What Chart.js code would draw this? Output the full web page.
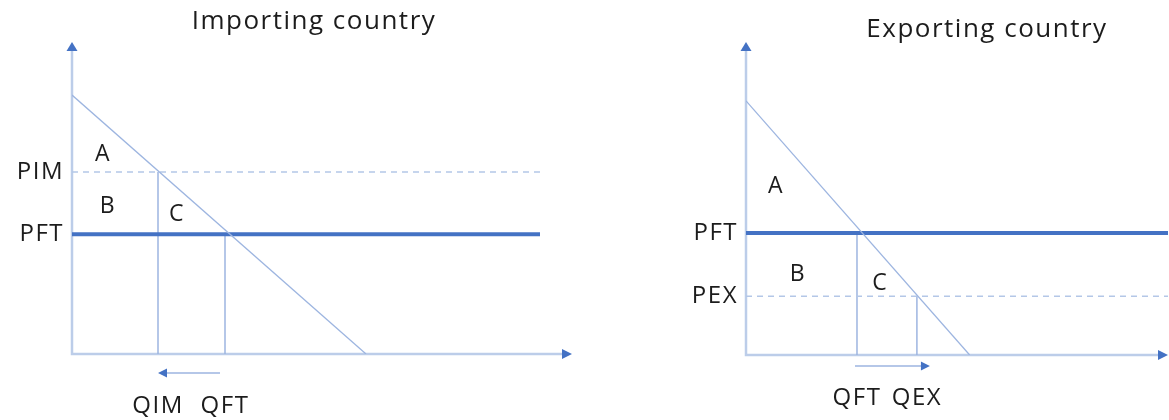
<!DOCTYPE html>
<html lang="en">
<head>
<meta charset="UTF-8">
<title>Importing and exporting country</title>
<script src="https://cdn.jsdelivr.net/npm/chart.js@4.4.1/dist/chart.umd.min.js"></script>
<style>
  html, body { margin: 0; padding: 0; background: #fff; overflow: hidden; }
  #wrap { position: relative; width: 1169px; height: 420px; }
  canvas { position: absolute; top: 0; }
  #importChart { left: 0; }
  #exportChart { left: 680px; }
</style>
</head>
<body>
<div id="wrap">
  <canvas id="importChart" width="600" height="420"></canvas>
  <canvas id="exportChart" width="489" height="420"></canvas>
</div>

<script>
// importing country (axes run 0..100)
const impPriceLabels = ['PIM', 'PFT'];
const impPrices = [58.3, 38.4];
const impQtyLabels = ['QIM', 'QFT'];
const impQtys = [17.2, 30.6];
const impDemandQ = [0, 58.8];
const impDemandP = [83, 0];

// exporting country
const expPriceLabels = ['PFT', 'PEX'];
const expPrices = [39.0, 18.8];
const expQtyLabels = ['QFT', 'QEX'];
const expQtys = [26.3, 40.5];
const expDemandQ = [0, 53];
const expDemandP = [81.2, 0];

const FONT = "'Open Sans', 'Noto Sans', sans-serif";
const TEXT = '#1c1c1c';
const BLUE = '#4472c4';
const THIN = '#9db5e0';
const AXIS = '#bccde9';

function arrowHead(ctx, x, y, dir, len, half) {
    // dir: 'up' | 'right' | 'left'
    ctx.beginPath();
    if (dir === 'up') {
        ctx.moveTo(x, y); ctx.lineTo(x - half, y + len); ctx.lineTo(x + half, y + len);
    } else if (dir === 'right') {
        ctx.moveTo(x, y); ctx.lineTo(x - len, y - half); ctx.lineTo(x - len, y + half);
    } else {
        ctx.moveTo(x, y); ctx.lineTo(x + len, y - half); ctx.lineTo(x + len, y + half);
    }
    ctx.closePath();
    ctx.fill();
}

const decor = {
    id: 'decor',
    beforeDraw(chart) {
        chart.ctx.letterSpacing = '1.5px';
    },
    beforeDatasetsDraw(chart) {
        const {ctx, chartArea: a} = chart;
        ctx.save();
        ctx.strokeStyle = AXIS;
        ctx.lineWidth = 2.5;
        ctx.beginPath();
        ctx.moveTo(a.left, a.top + 6);
        ctx.lineTo(a.left, a.bottom);
        ctx.lineTo(a.right - 6, a.bottom);
        ctx.stroke();
        ctx.restore();
    },
    afterDatasetsDraw(chart, args, opts) {
        const {ctx, chartArea: a, scales: {x, y}} = chart;
        ctx.save();
        ctx.fillStyle = BLUE;
        arrowHead(ctx, a.left, a.top, 'up', 9, 5.5);
        arrowHead(ctx, a.right, a.bottom, 'right', 10, 5);

        // quantity change arrow under the axis
        const qa = opts.qtyArrow;
        const x0 = x.getPixelForValue(opts.qtys[qa.from]);
        const x1 = x.getPixelForValue(opts.qtys[qa.to]);
        const dir = x1 > x0 ? 1 : -1;
        const tail = x0 + dir * qa.tailInset;
        const tip = x1 + dir * qa.tipExtra;
        const ay = a.bottom + qa.drop;
        ctx.strokeStyle = THIN;
        ctx.lineWidth = 1.5;
        ctx.beginPath();
        ctx.moveTo(tail, ay);
        ctx.lineTo(tip - dir * 8, ay);
        ctx.stroke();
        arrowHead(ctx, tip, ay, dir > 0 ? 'right' : 'left', 9, 4.5);

        // region letters
        ctx.fillStyle = TEXT;
        ctx.font = '23px ' + FONT;
        ctx.textAlign = 'center';
        ctx.textBaseline = 'middle';
        opts.letters.forEach(l => {
            ctx.fillText(l.t, x.getPixelForValue(l.x), y.getPixelForValue(l.y));
        });

        // panel title
        ctx.font = '26px ' + FONT;
        ctx.textBaseline = 'alphabetic';
        ctx.fillText(opts.title.text, opts.title.x, opts.title.y);
        ctx.restore();
    }
};

function makePanel(id, p) {
    const datasets = [];
    datasets.push({
        data: p.demandQ.map((q, i) => ({x: q, y: p.demandP[i]})),
        borderColor: THIN,
        borderWidth: 1.3
    });
    p.prices.forEach((v, i) => {
        const thick = i === p.worldIndex;
        datasets.push({
            data: [{x: 0, y: v}, {x: p.lineEnd, y: v}],
            borderColor: thick ? BLUE : '#b4c7e7',
            borderWidth: thick ? 4 : 1.5,
            borderDash: thick ? [] : [6, 5]
        });
    });
    p.qtys.forEach((q, i) => {
        datasets.push({
            data: [{x: q, y: 0}, {x: q, y: p.prices[i]}],
            borderColor: THIN,
            borderWidth: 1.5
        });
    });

    new Chart(document.getElementById(id), {
        type: 'scatter',
        data: {datasets: datasets.map(d => Object.assign({showLine: true, pointRadius: 0, fill: false}, d))},
        options: {
            responsive: false,
            animation: false,
            layout: {padding: {left: 0, top: p.top, right: p.padRight, bottom: 0}},
            plugins: {
                legend: {display: false},
                tooltip: {enabled: false},
                decor: {
                    qtys: p.qtys,
                    qtyArrow: p.qtyArrow,
                    letters: p.letters,
                    title: p.title
                }
            },
            scales: {
                x: {
                    type: 'linear', min: 0, max: 100,
                    grid: {display: false, drawTicks: false},
                    border: {display: false},
                    afterFit: s => { s.height = p.xAxisHeight; },
                    afterBuildTicks: s => { s.ticks = p.qtys.map(v => ({value: v})); },
                    ticks: {
                        autoSkip: false, maxRotation: 0,
                        padding: p.xPad,
                        color: TEXT,
                        font: {family: FONT, size: 24},
                        callback: (v, i) => p.qtyLabels[i]
                    }
                },
                y: {
                    type: 'linear', min: 0, max: 100,
                    grid: {display: false, drawTicks: false},
                    border: {display: false},
                    afterFit: s => { s.width = p.yAxisWidth; },
                    afterBuildTicks: s => { s.ticks = p.prices.map(v => ({value: v})); },
                    ticks: {
                        autoSkip: false,
                        padding: 8,
                        color: TEXT,
                        font: {family: FONT, size: 24},
                        callback: (v, i) => p.priceLabels[i]
                    }
                }
            }
        },
        plugins: [decor]
    });
}

makePanel('importChart', {
    priceLabels: impPriceLabels, prices: impPrices,
    qtyLabels: impQtyLabels, qtys: impQtys,
    demandQ: impDemandQ, demandP: impDemandP,
    worldIndex: 1, lineEnd: 93.6,
    top: 42, padRight: 28, yAxisWidth: 72, xAxisHeight: 66, xPad: 38,
    qtyArrow: {from: 1, to: 0, tailInset: 5, tipExtra: 0, drop: 19},
    letters: [{t: 'A', x: 6.2, y: 63.8}, {t: 'B', x: 7.2, y: 47.4}, {t: 'C', x: 21, y: 44.6}],
    title: {text: 'Importing country', x: 314, y: 29}
});

makePanel('exportChart', {
    priceLabels: expPriceLabels, prices: expPrices,
    qtyLabels: expQtyLabels, qtys: expQtys,
    demandQ: expDemandQ, demandP: expDemandP,
    worldIndex: 0, lineEnd: 100,
    top: 42, padRight: 1, yAxisWidth: 66, xAxisHeight: 65, xPad: 29,
    qtyArrow: {from: 0, to: 1, tailInset: -2, tipExtra: 13, drop: 11},
    letters: [{t: 'A', x: 7.1, y: 54}, {t: 'B', x: 12.3, y: 25.6}, {t: 'C', x: 31.8, y: 23}],
    title: {text: 'Exporting country', x: 307, y: 37}
});
</script>
</body>
</html>
